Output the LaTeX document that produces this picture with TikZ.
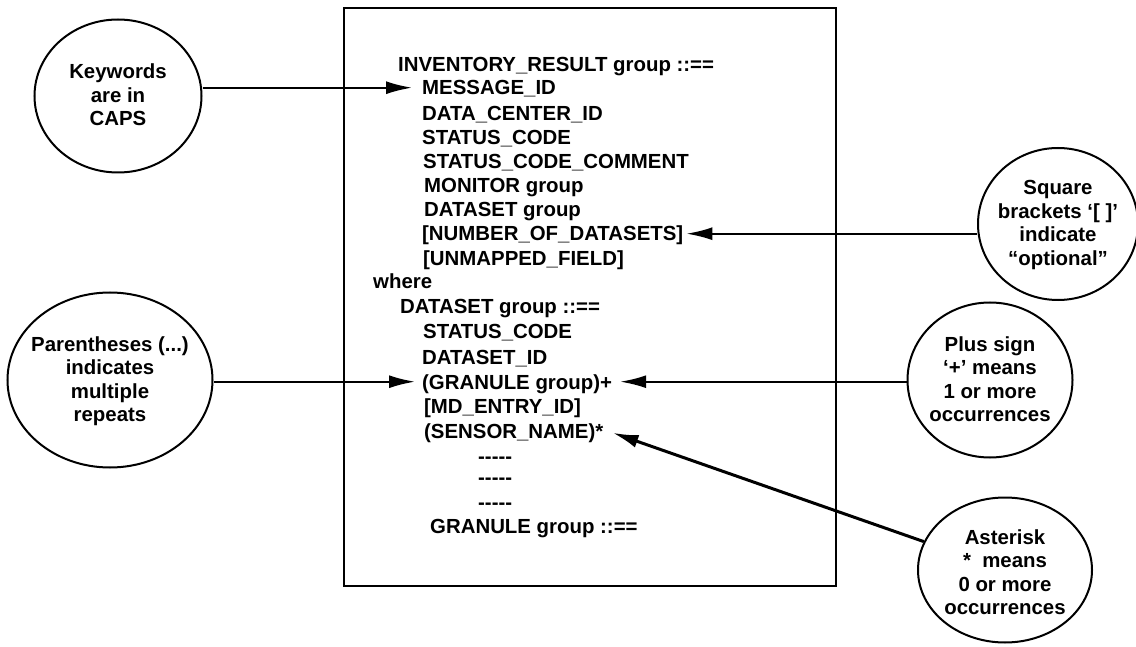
\documentclass[tikz,border=0pt]{standalone}
\usepackage{fontspec}
\setmainfont{Liberation Sans}
\usetikzlibrary{arrows.meta,shapes.geometric}

\begin{document}
\begin{tikzpicture}[x=1pt,y=-1pt,
  every node/.style={font=\fontsize{20.4}{23.5}\selectfont\bfseries},
  bubble/.style={draw,line width=2pt,ellipse,inner sep=0pt},
  note/.style={align=center,inner sep=0pt},
  line/.style={anchor=west,inner sep=0pt,text height=14.6pt,text depth=0pt},
  arr/.style={line width=2pt,-{Latex[length=26pt,width=13pt]}},
]
\useasboundingbox (0,0) rectangle (1136,647);

% grammar frame
\node[draw,line width=2pt,minimum width=492pt,minimum height=578pt,inner sep=0pt] (frame) at (590,297) {};

% grammar text
\node[line] (inv)  at (398,64.7)  {INVENTORY\_RESULT group ::==};
\node[line] (msg)  at (422,87.7)  {MESSAGE\_ID};
\node[line] (dcid) at (422,113.7) {DATA\_CENTER\_ID};
\node[line] (sc1)  at (422,137.7) {STATUS\_CODE};
\node[line] (scc)  at (423,161.7) {STATUS\_CODE\_COMMENT};
\node[line] (mon)  at (424,185.7) {MONITOR group};
\node[line] (dsg)  at (424,209.7) {DATASET group};
\node[line] (num)  at (422,233.7) {[NUMBER\_OF\_DATASETS]};
\node[line] (unm)  at (423,258.7) {[UNMAPPED\_FIELD]};
\node[line] (wh)   at (373,281.7) {where};
\node[line] (dsd)  at (400,306.7) {DATASET group ::==};
\node[line] (sc2)  at (423,330.7) {STATUS\_CODE};
\node[line] (dsid) at (422,356.7) {DATASET\_ID};
\node[line] (gran) at (422,381.7) {(GRANULE group)+};
\node[line] (md)   at (424,405.7) {[MD\_ENTRY\_ID]};
\node[line] (sens) at (424,430.7) {(SENSOR\_NAME)*};
\node[line] (d1)   at (478,455.7) {{-}{-}{-}{-}{-}};
\node[line] (d2)   at (478,476.7) {{-}{-}{-}{-}{-}};
\node[line] (d3)   at (478,501.7) {{-}{-}{-}{-}{-}};
\node[line] (grd)  at (430,525.7) {GRANULE group ::==};

% call-out bubbles
\node[bubble,minimum width=167pt,minimum height=153pt] (kw)   at (118,96)   {};
\node[note] at (118,95) {Keywords\\are in\\CAPS};

\node[bubble,minimum width=205pt,minimum height=175pt] (par)  at (110,380)  {};
\node[note] at (110,381) {Parentheses (...)\\indicates\\multiple\\repeats};

\node[bubble,minimum width=160pt,minimum height=152pt] (sq)   at (1058,224) {};
\node[note] at (1058,225) {Square\\brackets ‘[ ]’\\indicate\\“optional”};

\node[bubble,minimum width=165pt,minimum height=155pt] (plus) at (990,380)  {};
\node[note] at (990,379) {Plus sign\\‘+’ means\\1 or more\\occurrences};

\node[bubble,minimum width=174pt,minimum height=145pt] (ast)  at (1005,570) {};
\node[note] at (1005,572) {Asterisk\\*\ \ means\\0 or more\\occurrences};

% pointers
\draw[arr] (kw.east |- msg.west) -- ([xshift=-10pt]msg.west);
\draw[arr] (sq.west |- num.east) -- ([xshift=3pt]num.east);
\draw[arr] (par.east |- gran.west) -- ([xshift=-7pt]gran.west);
\draw[arr] (plus.west |- gran.east) -- ([xshift=8pt]gran.east);
\draw[arr,line width=3pt] (ast) -- ([xshift=9pt,yshift=-2pt]sens.east);
\end{tikzpicture}
\end{document}
